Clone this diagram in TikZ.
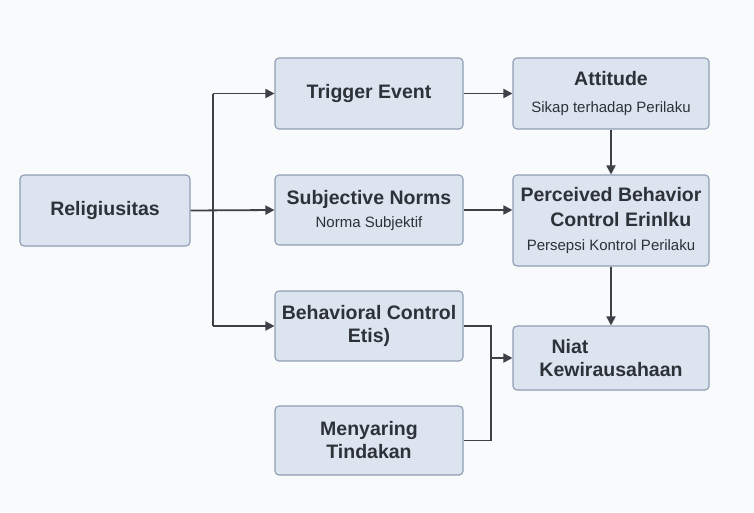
\documentclass[tikz,border=0pt]{standalone}
\usepackage{fontspec}
\setmainfont{Liberation Sans}
\usetikzlibrary{arrows.meta}
\definecolor{boxfill}{HTML}{DCE4F0}
\definecolor{boxline}{HTML}{8E9DB4}
\definecolor{inkgray}{HTML}{2D3138}
\definecolor{linegray}{HTML}{3C4147}
\definecolor{paper}{HTML}{F9FAFB}
\tikzset{
  box/.style={draw=boxline, fill=boxfill, rounded corners=4pt, line width=1.1pt,
    text=inkgray, align=center, font=\fontsize{19.5}{23}\selectfont\bfseries},
  arr/.style={draw=linegray, line width=1.8pt, -{Triangle[length=9pt,width=9pt]}},
  ln/.style={draw=linegray, line width=1.8pt}
}
\newcommand{\subtxt}[1]{{\fontsize{15}{20}\selectfont\mdseries #1}}
\begin{document}
\begin{tikzpicture}
[x=1pt,y=-1pt]
  \fill[paper] (0,0) rectangle (754,512);
  \useasboundingbox (0,0) rectangle (754,512);

  \node[box, minimum width=170pt, minimum height=71pt] (relig) at (105,210.5) {Religiusitas};
  \node[box, minimum width=188pt, minimum height=71pt] (trig) at (369,93.5) {Trigger Event};
  \node[box, minimum width=196pt, minimum height=71pt] (att) at (611,93.5) {Attitude\\[4pt]\subtxt{Sikap terhadap Perilaku}};
  \node[box, minimum width=188pt, minimum height=70pt] (subj) at (369,210) {Subjective Norms\\\subtxt{Norma Subjektif}};
  \node[box, minimum width=196pt, minimum height=91pt] (perc) at (611,220.5) {Perceived Behavior\\[2pt]\hspace*{1em}Control Erinlku\\[1pt]\subtxt{Persepsi Kontrol Perilaku}};
  \node[box, minimum width=188pt, minimum height=70pt] (beh) at (369,326) {Behavioral Control\\Etis)};
  \node[box, minimum width=188pt, minimum height=69pt] (meny) at (369,440.5) {Menyaring\\Tindakan};
  \node[box, minimum width=196pt, minimum height=64pt] (niat) at (611,358) {Niat\hspace*{4.2em}\\Kewirausahaan};

  \coordinate (trunk) at (213,0);
  \coordinate (merge) at (491,0);

  \draw[ln] (trunk |- trig) -- (trunk |- beh);
  \draw[arr] (trunk |- trig) -- (trig.west);
  \draw[arr] (trunk |- beh) -- (beh.west);
  \draw[arr] (relig.east) -- (subj.west);

  \draw[arr] (trig.east) -- (att.west);
  \draw[arr] (subj.east) -- (subj.east -| perc.west);
  \foreach \a/\b in {att/perc, perc/niat}
    \draw[arr] (\a.south) -- (\b.north);

  \draw[ln] (beh.east) -- (beh.east -| merge) -- (merge |- meny.east) -- (meny.east);
  \draw[arr] (merge |- niat) -- (niat.west);
\end{tikzpicture}
\end{document}
